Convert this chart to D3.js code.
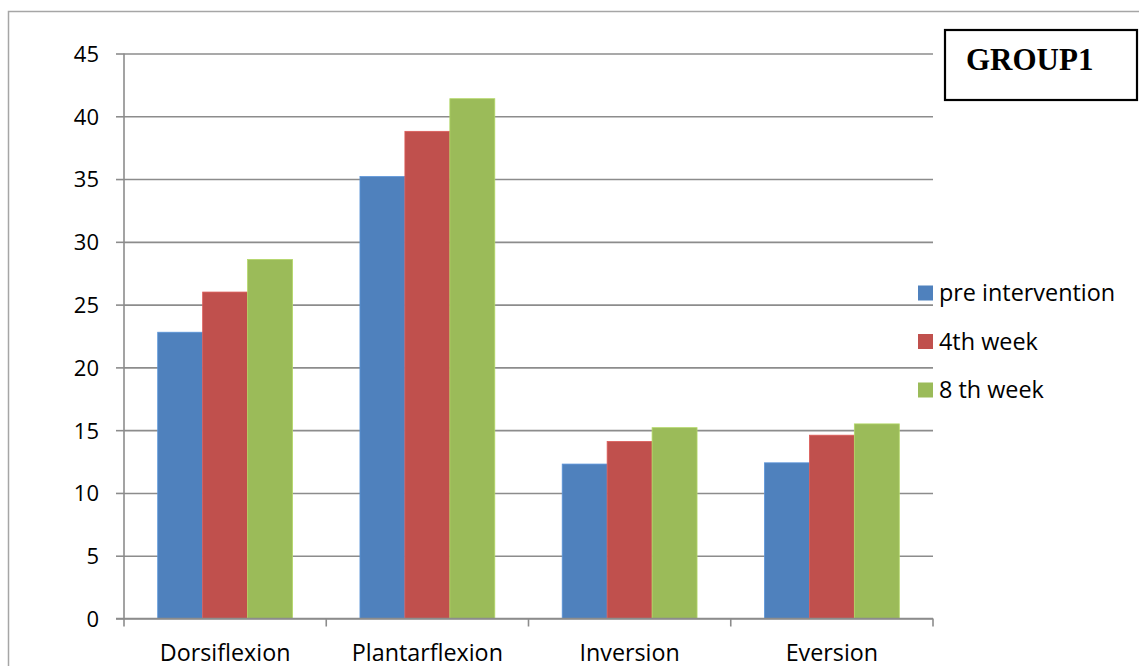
<!DOCTYPE html>
<html>
<head>
<meta charset="utf-8">
<script src="https://cdn.jsdelivr.net/npm/d3@7"></script>
<style>
  html, body { margin: 0; padding: 0; background: #ffffff; }
  svg { display: block; }
  text { font-family: "Open Sans", Lato, sans-serif; fill: #000; }
</style>
</head>
<body>
<svg id="chart" width="1139" height="666"></svg>
<script>
// Range-of-motion measurements (degrees) for Group 1
const categories = ["Dorsiflexion", "Plantarflexion", "Inversion", "Eversion"];
const seriesNames = ["pre intervention", "4th week", "8 th week"];
const preIntervention = [22.8, 35.2, 12.3, 12.4];
const week4 = [26.0, 38.8, 14.1, 14.6];
const week8 = [28.6, 41.4, 15.2, 15.5];
const yTicks = [0, 5, 10, 15, 20, 25, 30, 35, 40, 45];
const colors = ["#4F81BD", "#C0504D", "#9BBB59"];
const title = "GROUP1";

const seriesValues = [preIntervention, week4, week8];

const svg = d3.select("#chart");

// chart frame
svg.append("rect")
  .attr("x", 8.5).attr("y", 11.5)
  .attr("width", 1140).attr("height", 700)
  .attr("fill", "none").attr("stroke", "#a6a6a6").attr("stroke-width", 1.5);

const plot = { left: 124, right: 933, top: 53.5, bottom: 618.5 };

const x = d3.scaleBand().domain(categories).range([plot.left, plot.right]).padding(0);
// bars within a category: 3 bars + 1.5 bar widths of gap
const xInner = d3.scaleBand().domain(d3.range(seriesNames.length))
  .range([0, x.bandwidth()]).paddingInner(0).paddingOuter(0.75);
const y = d3.scaleLinear().domain([0, 45]).range([plot.bottom, plot.top]);

const gridColor = "#8c8c8c";

// horizontal gridlines with tick marks
const yAxis = d3.axisLeft(y).tickValues(yTicks).tickSize(8).tickPadding(0).tickFormat(d3.format("d"));
const gy = svg.append("g").attr("transform", `translate(${plot.left},0)`).call(yAxis);
gy.select(".domain").remove();
gy.selectAll(".tick line").attr("stroke", gridColor).attr("stroke-width", 1.6);
gy.selectAll(".tick text").remove();
gy.selectAll(".tick").append("line")
  .attr("x1", 0).attr("x2", plot.right - plot.left)
  .attr("stroke", gridColor).attr("stroke-width", 1.6);
gy.selectAll(".tick").append("text")
  .attr("x", -25).attr("dy", "0.36em")
  .attr("text-anchor", "end")
  .style("font-size", "22px")
  .text(d => d);

// vertical axis line
svg.append("line")
  .attr("x1", plot.left).attr("x2", plot.left)
  .attr("y1", plot.top).attr("y2", plot.bottom)
  .attr("stroke", gridColor).attr("stroke-width", 1.6);

// bars
const groups = svg.append("g").selectAll("g")
  .data(categories)
  .join("g")
  .attr("transform", d => `translate(${x(d)},0)`);

groups.selectAll("rect")
  .data((c, ci) => seriesValues.map((vals, si) => ({ si, v: vals[ci] })))
  .join("rect")
  .attr("x", d => xInner(d.si))
  .attr("y", d => y(d.v))
  .attr("width", xInner.bandwidth())
  .attr("height", d => y(0) - y(d.v))
  .attr("fill", d => colors[d.si])
  .attr("stroke", d => d3.color(colors[d.si]).brighter(0.4))
  .attr("stroke-width", 0.8);

// category axis
const xAxis = d3.axisBottom(x).tickSize(0).tickPadding(0);
const gx = svg.append("g").attr("transform", `translate(0,${plot.bottom})`).call(xAxis);
gx.select(".domain").remove();
gx.selectAll(".tick text").remove();
gx.selectAll(".tick").append("text")
  .attr("y", 42)
  .attr("text-anchor", "middle")
  .style("font-size", "23.3px")
  .text(d => d);
svg.append("line")
  .attr("x1", plot.left - 8).attr("x2", plot.right)
  .attr("y1", plot.bottom).attr("y2", plot.bottom)
  .attr("stroke", gridColor).attr("stroke-width", 1.6);
const boundaries = categories.map(c => x(c)).concat([x(categories[categories.length - 1]) + x.bandwidth()]);
svg.append("g").selectAll("line")
  .data(boundaries)
  .join("line")
  .attr("x1", d => d).attr("x2", d => d)
  .attr("y1", plot.bottom).attr("y2", plot.bottom + 8)
  .attr("stroke", gridColor).attr("stroke-width", 1.6);

// legend
const legend = svg.append("g").selectAll("g")
  .data(seriesNames)
  .join("g")
  .attr("transform", (d, i) => `translate(918,${293 + i * 48.5})`);
legend.append("rect")
  .attr("x", 0).attr("y", -7.5)
  .attr("width", 15).attr("height", 15)
  .attr("fill", (d, i) => colors[i]);
legend.append("text")
  .attr("x", 21).attr("dy", "0.36em")
  .style("font-size", "23.4px")
  .text(d => d);

// title box
svg.append("rect")
  .attr("x", 945).attr("y", 30)
  .attr("width", 192).attr("height", 70)
  .attr("fill", "#ffffff").attr("stroke", "#000").attr("stroke-width", 2.2);
svg.append("text")
  .attr("x", 966).attr("y", 70)
  .style("font-family", "'Liberation Serif', 'Times New Roman', serif")
  .style("font-weight", "bold")
  .style("font-size", "31px")
  .text(title);
</script>
</body>
</html>
